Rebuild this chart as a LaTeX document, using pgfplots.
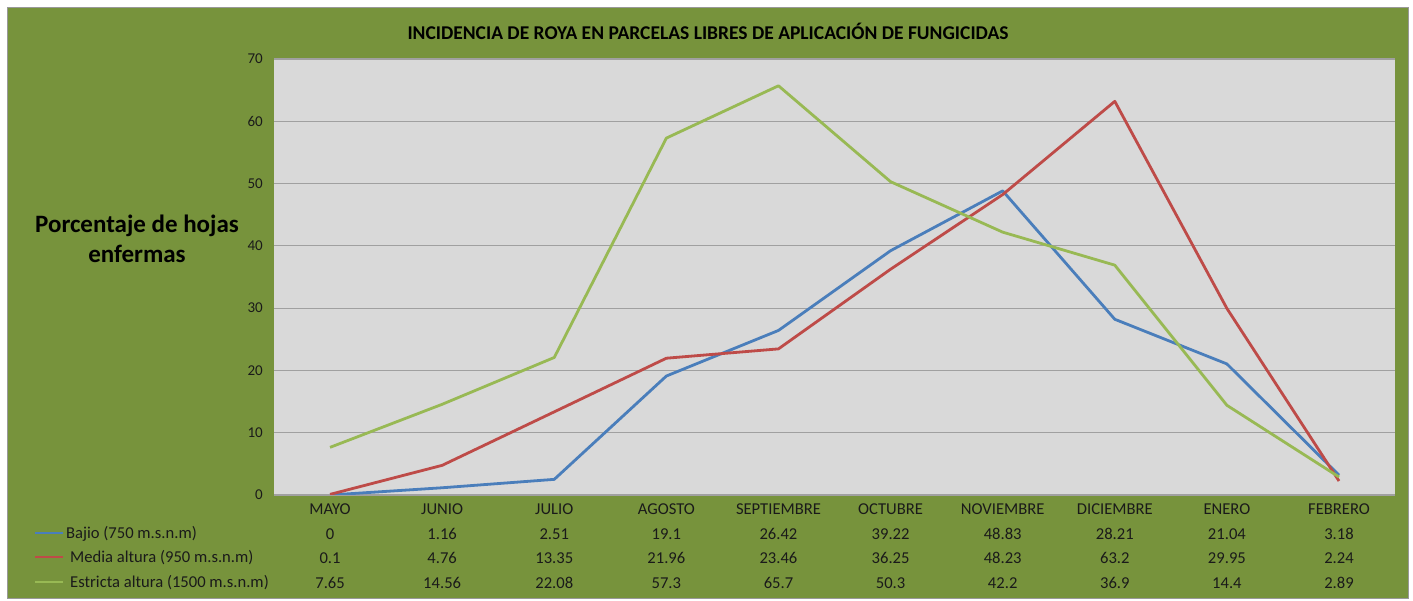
\documentclass[border=0pt]{standalone}
\usepackage{pgfplots}
\pgfplotsset{compat=1.18}
\usepackage{fontspec}
\setmainfont{Carlito}
\definecolor{bggreen}{HTML}{77933C}
\definecolor{plotgray}{HTML}{D9D9D9}
\definecolor{gridgray}{HTML}{A0A0A0}
\definecolor{sblue}{HTML}{4A7EBB}
\definecolor{sred}{HTML}{BE4B48}
\definecolor{sgreen}{HTML}{98B954}
\definecolor{txt}{HTML}{1A1A1A}
\begin{document}
\begin{tikzpicture}[x=1pt,y=1pt]
\fill[white] (0,0) rectangle (1413,601);
\fill[bggreen] (7,3) rectangle (1408,594);
\draw[gray!80,line width=0.8pt] (7,3) rectangle (1408,594);
\node[font=\fontsize{19.5}{22}\selectfont\bfseries,text=black] at (708,570) {INCIDENCIA DE ROYA EN PARCELAS LIBRES DE APLICACIÓN DE FUNGICIDAS};
\node[font=\fontsize{25}{30}\selectfont\bfseries,text=black,align=center] at (137,362) {Porcentaje de hojas\\enfermas};
\begin{axis}[
  at={(274pt,106pt)}, anchor=south west,
  width=1121pt, height=436pt, scale only axis,
  xmin=-0.5, xmax=9.5, ymin=0, ymax=70,
  ytick={0,10,...,70}, xtick={0,...,9},
  axis background/.style={fill=plotgray},
  axis line style={draw=none},
  major tick length=0pt,
  ymajorgrids, grid style={gridgray,line width=1.2pt},
  /pgf/number format/assume math mode=true,
  yticklabel style={font=\fontsize{15}{17}\selectfont,text=txt,anchor=east,inner sep=0pt,xshift=-11pt},
  xticklabel style={font=\fontsize{16.6}{24.7}\selectfont,text=txt,align=center,anchor=north,inner sep=0pt,yshift=-8.5pt},
  xticklabels={{MAYO\\0\\0.1\\7.65},{JUNIO\\1.16\\4.76\\14.56},{JULIO\\2.51\\13.35\\22.08},{AGOSTO\\19.1\\21.96\\57.3},{SEPTIEMBRE\\26.42\\23.46\\65.7},{OCTUBRE\\39.22\\36.25\\50.3},{NOVIEMBRE\\48.83\\48.23\\42.2},{DICIEMBRE\\28.21\\63.2\\36.9},{ENERO\\21.04\\29.95\\14.4},{FEBRERO\\3.18\\2.24\\2.89}},
  every axis plot/.append style={line width=2.8pt,no markers,line join=round},
]
\addplot[sblue] coordinates {(0,0) (1,1.16) (2,2.51) (3,19.1) (4,26.42) (5,39.22) (6,48.83) (7,28.21) (8,21.04) (9,3.18)};
\addplot[sred] coordinates {(0,0.1) (1,4.76) (2,13.35) (3,21.96) (4,23.46) (5,36.25) (6,48.23) (7,63.2) (8,29.95) (9,2.24)};
\addplot[sgreen] coordinates {(0,7.65) (1,14.56) (2,22.08) (3,57.3) (4,65.7) (5,50.3) (6,42.2) (7,36.9) (8,14.4) (9,2.89)};
\end{axis}
\draw[sblue,line width=2.6pt] (35,68) -- (63,68);
\draw[sred,line width=2.6pt] (35,44) -- (63,44);
\draw[sgreen,line width=2.6pt] (35,19) -- (63,19);
\node[font=\fontsize{16.6}{19}\selectfont,text=txt,anchor=west,inner sep=0pt] at (66,67.5) {Bajio (750 m.s.n.m)};
\node[font=\fontsize{16.6}{19}\selectfont,text=txt,anchor=west,inner sep=0pt] at (70,43.5) {Media altura (950 m.s.n.m)};
\node[font=\fontsize{16.6}{19}\selectfont,text=txt,anchor=west,inner sep=0pt] at (70,18.5) {Estricta altura (1500 m.s.n.m)};
\end{tikzpicture}
\end{document}
